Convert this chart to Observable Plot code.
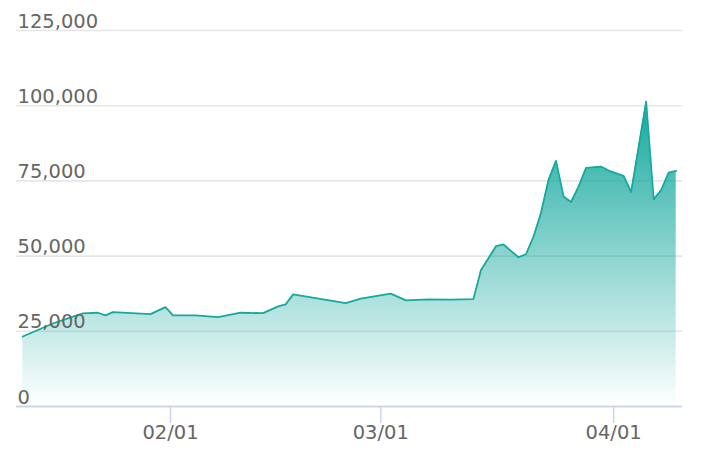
<!DOCTYPE html>
<html>
<head>
<meta charset="utf-8">
<script src="https://cdn.jsdelivr.net/npm/d3@7"></script>
<script src="https://cdn.jsdelivr.net/npm/@observablehq/plot@0.6"></script>
<style>
  html, body { margin: 0; padding: 0; background: #fff; }
</style>
</head>
<body>
<div id="chart"></div>
<script>
// Data
const dates = [
  "2021-01-12","2021-01-14","2021-01-16","2021-01-18","2021-01-20","2021-01-22","2021-01-23","2021-01-24",
  "2021-01-29","2021-01-31","2021-02-01","2021-02-04","2021-02-07","2021-02-10","2021-02-13","2021-02-15",
  "2021-02-16","2021-02-17","2021-02-24","2021-02-26","2021-03-02","2021-03-04","2021-03-07","2021-03-10",
  "2021-03-13","2021-03-14","2021-03-16","2021-03-17","2021-03-19","2021-03-20","2021-03-21","2021-03-22",
  "2021-03-23","2021-03-24","2021-03-25","2021-03-26","2021-03-27","2021-03-28","2021-03-30","2021-03-31",
  "2021-04-02","2021-04-03","2021-04-05","2021-04-06","2021-04-07","2021-04-08","2021-04-09"
];
const values = [
  23260, 25430, 27600, 29270, 30930, 31170, 30270, 31370,
  30700, 33040, 30270, 30270, 29700, 31170, 31030, 33270,
  33940, 37270, 34370, 35840, 37510, 35270, 35600, 35500,
  35700, 45280, 53290, 53860, 49620, 50620, 56460, 64400,
  75320, 81660, 69810, 67980, 73080, 79320, 79760, 78420,
  76650, 71310, 101340, 68870, 71980, 77750, 78320
];
const yTicks = [0, 25000, 50000, 75000, 100000, 125000];
// tick dates at local midnight (UTC+8)
const xTickDates = ["2021-02-01T00:00:00+08:00", "2021-03-01T00:00:00+08:00", "2021-04-01T00:00:00+08:00"];

const data = dates.map((d, i) => ({date: new Date(d + "T00:00:00Z"), value: values[i]}));
const xTicks = xTickDates.map(d => new Date(d));
const DAY = 864e5;
const first = data[0].date, last = data[data.length - 1].date;
const pad = 0.84 * DAY;

const teal = "#16a99e";
const font = "'DejaVu Sans', Verdana, sans-serif";
const fmtLocal = d => d3.utcFormat("%m/%d")(new Date(+d + 8 * 3600e3));

const plot = Plot.plot({
  width: 704,
  height: 472,
  marginLeft: 16,
  marginRight: 22,
  marginTop: 30,
  marginBottom: 66,
  style: {fontFamily: font, fontSize: "19.5px", color: "#666", background: "#fff"},
  x: {type: "utc", domain: [new Date(+first - pad), new Date(+last + pad)]},
  y: {domain: [0, 125000]},
  marks: [
    Plot.ruleY(yTicks.filter(d => d > 0), {stroke: "#e6e6e6", strokeWidth: 1.6}),
    Plot.areaY(data, {x: "date", y: "value", fill: "url(#areaGrad)"}),
    Plot.lineY(data, {x: "date", y: "value", stroke: teal, strokeWidth: 1.8}),
    Plot.ruleY([0], {stroke: "#ccd6eb", strokeWidth: 2}),
    Plot.text(yTicks, {y: d => d, text: d => d3.format(",")(d), frameAnchor: "left",
      textAnchor: "start", lineAnchor: "bottom", dx: 1, dy: -3, fill: "#666"}),
    Plot.axisX({ticks: xTicks, tickSize: 17, tickPadding: 2, stroke: "#ccd6eb", strokeWidth: 1.5,
      fill: "#666", tickFormat: fmtLocal, label: null}),
    Plot.axisY({ticks: [], label: null})
  ]
});

// gradient definition
const svg = d3.select(plot);
const grad = svg.insert("defs", ":first-child").append("linearGradient")
  .attr("id", "areaGrad").attr("x1", 0).attr("y1", 0).attr("x2", 0).attr("y2", 1);
grad.append("stop").attr("offset", "0%").attr("stop-color", teal).attr("stop-opacity", 1);
grad.append("stop").attr("offset", "100%").attr("stop-color", teal).attr("stop-opacity", 0);

document.getElementById("chart").appendChild(plot);
</script>
</body>
</html>
